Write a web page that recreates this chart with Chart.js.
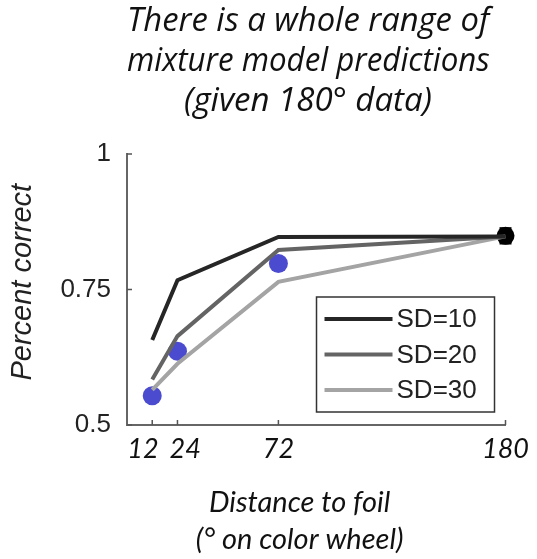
<!DOCTYPE html>
<html>
<head>
<meta charset="utf-8">
<script src="https://cdn.jsdelivr.net/npm/chart.js@4"></script>
<style>
  html, body { margin: 0; padding: 0; background: #fff; }
  canvas { display: block; }
</style>
</head>
<body>
<canvas id="chart" width="537" height="559"></canvas>
<script>
// Values
const distances = [12, 24, 72, 180];
const xTickValues = [12, 24, 72, 180];
const yTickValues = [0.5, 0.75, 1];
const sd10 = [0.657, 0.767, 0.847, 0.848];
const sd20 = [0.584, 0.664, 0.823, 0.848];
const sd30 = [0.565, 0.613, 0.764, 0.848];
const observedX = [12, 24, 72];
const observed = [0.554, 0.636, 0.798];
const anchorX = [180];
const anchor = [0.849];
const anchorErr = [0.016];

const pts = (xs, ys) => xs.map((x, i) => ({ x: x, y: ys[i] }));

// error bar for the 180 point
const errPts = [
    { x: anchorX[0], y: anchor[0] - anchorErr[0] },
    { x: anchorX[0], y: anchor[0] + anchorErr[0] }
];

// the first two x labels sit a little apart in the original
const xLabel = v => v === 12 ? '12\u2003' : v === 24 ? '\u2002\u200924' : String(v);

const lineDs = (label, data, color) => ({
    label: label,
    data: pts(distances, data),
    borderColor: color,
    backgroundColor: color,
    borderWidth: 4,
    pointRadius: 0,
    tension: 0,
    showInLegend: true
});

// Legend drawn inside the plot, bottom-right
const boxLegend = {
    id: 'boxLegend',
    afterDatasetsDraw(chart) {
        const { ctx, chartArea } = chart;
        const left = chartArea.right - 189, top = chartArea.top + 143;
        const w = 178, h = 115;
        ctx.save();
        ctx.fillStyle = '#fff';
        ctx.fillRect(left, top, w, h);
        ctx.strokeStyle = '#333';
        ctx.lineWidth = 1.5;
        ctx.strokeRect(left, top, w, h);
        ctx.font = '26px "Liberation Sans", Arial, sans-serif';
        ctx.textBaseline = 'middle';
        ctx.fillStyle = '#222';
        const items = chart.data.datasets.filter(d => d.showInLegend);
        items.forEach((d, i) => {
            const y = top + 22 + i * 35.5;
            ctx.strokeStyle = d.borderColor;
            ctx.lineWidth = 4;
            ctx.beginPath();
            ctx.moveTo(left + 8, y);
            ctx.lineTo(left + 76, y);
            ctx.stroke();
            ctx.fillText(d.label, left + 80, y + 1);
        });
        ctx.restore();
    }
};

// MATLAB-like inward tick marks
const inwardTicks = {
    id: 'inwardTicks',
    afterDraw(chart) {
        const { ctx, chartArea, scales } = chart;
        ctx.save();
        ctx.strokeStyle = '#555';
        ctx.lineWidth = 1.5;
        ctx.beginPath();
        scales.x.ticks.forEach(t => {
            const x = scales.x.getPixelForValue(t.value);
            ctx.moveTo(x, chartArea.bottom);
            ctx.lineTo(x, chartArea.bottom - 5);
        });
        scales.y.ticks.forEach(t => {
            const y = scales.y.getPixelForValue(t.value);
            ctx.moveTo(chartArea.left, y);
            ctx.lineTo(chartArea.left + 5, y);
        });
        ctx.stroke();
        ctx.restore();
    }
};

new Chart(document.getElementById('chart').getContext('2d'), {
    type: 'line',
    data: {
        datasets: [
            lineDs('SD=10', sd10, '#262626'),
            lineDs('SD=20', sd20, '#646464'),
            lineDs('SD=30', sd30, '#a4a4a4'),
            {
                label: 'data',
                data: pts(observedX, observed),
                showLine: false,
                pointRadius: 9.5,
                pointBackgroundColor: '#4b4bcf',
                pointBorderWidth: 0,
                clip: false
            },
            {
                label: 'error',
                data: errPts,
                borderColor: '#000',
                borderWidth: 12,
                borderCapStyle: 'butt',
                pointRadius: 0,
                clip: false
            },
            {
                label: 'anchor',
                data: pts(anchorX, anchor),
                showLine: false,
                pointRadius: 9,
                pointBackgroundColor: '#000',
                pointBorderWidth: 0,
                clip: false
            }
        ]
    },
    options: {
        responsive: false,
        animation: false,
        layout: { padding: { left: 0, right: 31, top: 0, bottom: 0 } },
        plugins: {
            legend: { display: false },
            tooltip: { enabled: false },
            title: {
                display: true,
                fullSize: false,
                text: ['There is a whole range of\u2002', 'mixture model predictions\u2002', '(given 180\u00b0 data)\u2002'],
                color: '#111',
                font: { family: '"Open Sans"', size: 33, style: 'italic', weight: 'normal', lineHeight: '40px' },
                padding: { top: 2, bottom: 32 }
            }
        },
        scales: {
            x: {
                type: 'linear',
                min: 0,
                max: 180,
                afterBuildTicks: s => { s.ticks = xTickValues.map(v => ({ value: v })); },
                afterFit: s => { s.height = 134; },
                grid: { display: true, drawOnChartArea: false, drawTicks: false },
                border: { display: true, color: '#666', width: 2 },
                ticks: {
                    color: '#111',
                    padding: 8,
                    maxRotation: 0,
                    autoSkip: false,
                    callback: xLabel,
                    font: { family: 'Lato', size: 27, style: 'italic' }
                },
                title: {
                    display: true,
                    text: ['Distance to foil\u2003\u2002', '(\u00b0 on color wheel)\u2003\u2002'],
                    color: '#111',
                    font: { family: 'Lato', size: 29, style: 'italic', lineHeight: '37px' },
                    padding: { top: 0, bottom: 1 }
                }
            },
            y: {
                min: 0.5,
                max: 1,
                afterBuildTicks: s => { s.ticks = yTickValues.map(v => ({ value: v })); },
                afterFit: s => { s.width = 127; },
                grid: { display: true, drawOnChartArea: false, drawTicks: false },
                border: { display: true, color: '#666', width: 2 },
                ticks: {
                    color: '#222',
                    padding: 16,
                    callback: v => String(v),
                    font: { family: '"Liberation Sans", Arial, sans-serif', size: 26 }
                },
                title: {
                    display: true,
                    text: '\u2002Percent correct',
                    color: '#222',
                    font: { family: '"Liberation Sans", Arial, sans-serif', size: 29, style: 'italic', lineHeight: 1.2 },
                    padding: { top: 6, bottom: 0 }
                }
            }
        }
    },
    plugins: [boxLegend, inwardTicks]
});
</script>
</body>
</html>
